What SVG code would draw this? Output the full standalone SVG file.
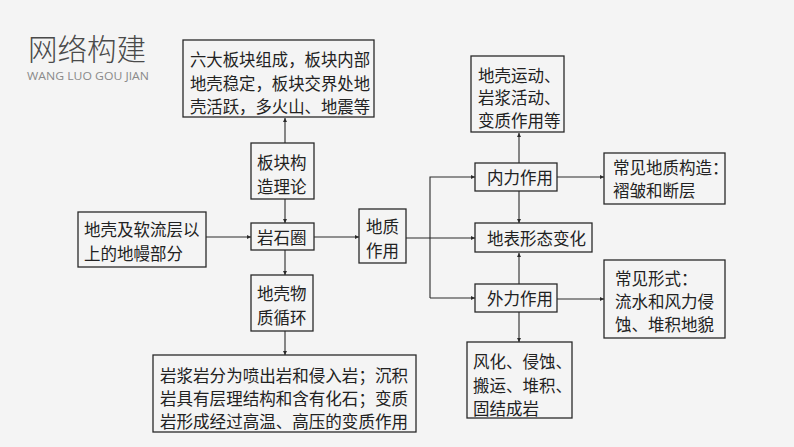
<svg xmlns="http://www.w3.org/2000/svg" width="794" height="447" viewBox="0 0 794 447">
<style>
.bx{fill:none;stroke:#2a2a2a;stroke-width:1.3}
.t{font-family:"Noto Sans CJK SC","Liberation Sans",sans-serif;font-size:16.5px;fill:#222}
.ln{fill:none;stroke:#2a2a2a;stroke-width:1.1}
.ar{marker-end:url(#a)}
</style>
<defs>
<marker id="a" viewBox="0 0 6 6" refX="6" refY="3" markerWidth="4" markerHeight="4" orient="auto" markerUnits="userSpaceOnUse"><path d="M0,0 L6,3 L0,6 z" fill="#2a2a2a"/></marker>
</defs>
<rect width="794" height="447" fill="#f4f4f4"/>
<g id="title">
<text x="28" y="60" font-family="Noto Sans CJK SC,sans-serif" font-size="29.5" fill="#4a4a4a" font-weight="300">网络构建</text>
<text x="27" y="80" font-family="Open Sans,Liberation Sans,sans-serif" font-size="11.5" fill="#8a8a8a" textLength="122" lengthAdjust="spacingAndGlyphs">WANG LUO GOU JIAN</text>
</g>
<g id="connectors">
<line class="ln ar" x1="285" y1="143" x2="285" y2="118"/>
<line class="ln ar" x1="285" y1="199" x2="285" y2="223"/>
<line class="ln ar" x1="206" y1="237" x2="251" y2="237"/>
<line class="ln ar" x1="314" y1="237" x2="359" y2="237"/>
<line class="ln ar" x1="285" y1="250" x2="285" y2="275"/>
<line class="ln ar" x1="285" y1="331" x2="285" y2="355"/>
<line class="ln ar" x1="406" y1="238" x2="475" y2="238"/>
<polyline class="ln ar" points="430,298 430,177 475,177"/>
<line class="ln ar" x1="430" y1="298" x2="475" y2="298"/>
<line class="ln ar" x1="519" y1="163" x2="519" y2="133"/>
<line class="ln ar" x1="557" y1="177" x2="604" y2="177"/>
<line class="ln ar" x1="519" y1="191" x2="519" y2="223"/>
<line class="ln ar" x1="519" y1="284" x2="519" y2="253"/>
<line class="ln ar" x1="557" y1="299" x2="604" y2="299"/>
<line class="ln ar" x1="519" y1="312" x2="519" y2="342"/>
</g>
<g id="n1"><rect class="bx" x="183" y="40" width="191" height="77"/>
<text class="t" x="190" y="66" textLength="180" lengthAdjust="spacingAndGlyphs">六大板块组成，板块内部</text>
<text class="t" x="190" y="90" textLength="180" lengthAdjust="spacingAndGlyphs">地壳稳定，板块交界处地</text>
<text class="t" x="190" y="113" textLength="180" lengthAdjust="spacingAndGlyphs">壳活跃，多火山、地震等</text></g>
<g id="n2"><rect class="bx" x="251" y="143" width="63" height="56"/>
<text class="t" x="257" y="169">板块构</text><text class="t" x="257" y="193">造理论</text></g>
<g id="n3"><rect class="bx" x="251" y="223" width="63" height="27"/>
<text class="t" x="257" y="244">岩石圈</text></g>
<g id="n4"><rect class="bx" x="78" y="212" width="128" height="55"/>
<text class="t" x="84" y="236">地壳及软流层以</text><text class="t" x="84" y="260">上的地幔部分</text></g>
<g id="n5"><rect class="bx" x="359" y="209" width="47" height="54"/>
<text class="t" x="366" y="233">地质</text><text class="t" x="366" y="257">作用</text></g>
<g id="n6"><rect class="bx" x="251" y="275" width="62" height="56"/>
<text class="t" x="257" y="300">地壳物</text><text class="t" x="257" y="324">质循环</text></g>
<g id="n7"><rect class="bx" x="153" y="355" width="263" height="77"/>
<text class="t" x="160" y="382" textLength="248" lengthAdjust="spacingAndGlyphs">岩浆岩分为喷出岩和侵入岩；沉积</text>
<text class="t" x="160" y="405" textLength="248" lengthAdjust="spacingAndGlyphs">岩具有层理结构和含有化石；变质</text>
<text class="t" x="160" y="428" textLength="248" lengthAdjust="spacingAndGlyphs">岩形成经过高温、高压的变质作用</text></g>
<g id="n8"><rect class="bx" x="471" y="56" width="93" height="76"/>
<text class="t" x="478" y="82">地壳运动、</text><text class="t" x="478" y="104">岩浆活动、</text><text class="t" x="478" y="127">变质作用等</text></g>
<g id="n9"><rect class="bx" x="475" y="163" width="82" height="28"/>
<text class="t" x="487" y="184">内力作用</text></g>
<g id="n10"><rect class="bx" x="604" y="153" width="121" height="51"/>
<text class="t" x="613" y="174">常见地质构造：</text><text class="t" x="613" y="197">褶皱和断层</text></g>
<g id="n11"><rect class="bx" x="475" y="223" width="117" height="29"/>
<text class="t" x="487" y="245">地表形态变化</text></g>
<g id="n12"><rect class="bx" x="475" y="284" width="82" height="28"/>
<text class="t" x="487" y="305">外力作用</text></g>
<g id="n13"><rect class="bx" x="604" y="260" width="121" height="78"/>
<text class="t" x="615" y="285">常见形式：</text><text class="t" x="615" y="308">流水和风力侵</text><text class="t" x="615" y="331">蚀、堆积地貌</text></g>
<g id="n14"><rect class="bx" x="467" y="342" width="105" height="76"/>
<text class="t" x="473" y="368">风化、侵蚀、</text><text class="t" x="473" y="392">搬运、堆积、</text><text class="t" x="473" y="415">固结成岩</text></g>
</svg>
